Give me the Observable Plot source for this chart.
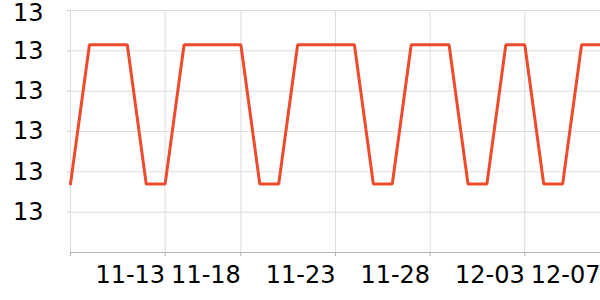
<!DOCTYPE html>
<html>
<head>
<meta charset="utf-8">
<script src="https://cdn.jsdelivr.net/npm/d3@7"></script>
<script src="https://cdn.jsdelivr.net/npm/@observablehq/plot@0.6"></script>
<style>
  html, body { margin: 0; padding: 0; background: #fff; }
  #chart svg { display: block; }
</style>
</head>
<body>
<div id="chart"></div>
<script>
const dates = ["11-08","11-09","11-10","11-11","11-12","11-13","11-14","11-15","11-16","11-18",
  "11-19","11-20","11-21","11-22","11-23","11-24","11-25","11-26","11-27","11-28",
  "11-29","11-30","12-01","12-02","12-03","12-04","12-05","12-06","12-07"];
const values = [13.007,13.0415,13.0415,13.0415,13.007,13.007,13.0415,13.0415,13.0415,13.0415,
  13.007,13.007,13.0415,13.0415,13.0415,13.0415,13.007,13.007,13.0415,13.0415,
  13.0415,13.007,13.007,13.0415,13.0415,13.007,13.007,13.0415,13.0415];
const xTicks = ["11-08","11-13","11-18","11-23","11-28","12-03","12-07"];
const xLabels = ["11-13","11-18","11-23","11-28","12-03","12-07"];
const yTicks = [13.00,13.01,13.02,13.03,13.04,13.05];
const yDomain = [12.99, 13.05];

const data = dates.map((d, i) => ({date: d, value: values[i]}));
const fmt = d3.format(".0f");
const topTick = yTicks[yTicks.length - 1];

const chart = Plot.plot({
  width: 600,
  height: 300,
  marginLeft: 70,
  marginRight: 0,
  marginTop: 10,
  marginBottom: 48,
  style: {fontFamily: "DejaVu Sans", fontSize: "24px", background: "#fff", color: "#000"},
  x: {type: "point", domain: dates, padding: 0, inset: 0, round: false, range: [70, 600]},
  y: {domain: yDomain, range: [252, 10]},
  marks: [
    Plot.gridY(yTicks, {stroke: "#dddddd", strokeOpacity: 1}),
    Plot.gridX(xTicks, {stroke: "#dddddd", strokeOpacity: 1}),
    Plot.ruleY([yDomain[0]], {stroke: "#b0b0b0", strokeWidth: 1}),
    Plot.axisY(yTicks, {
      tickFormat: d => d === topTick ? "" : fmt(d), tickSize: 3, tickPadding: 24,
      stroke: "#cccccc", fill: "#000", fontSize: 24, label: null
    }),
    Plot.axisY([topTick], {
      tickFormat: fmt, tickSize: 0, tickPadding: 27, dy: 3,
      fill: "#000", fontSize: 24, label: null
    }),
    Plot.axisX(xTicks, {
      tickSize: 4, tickPadding: 9, textAnchor: "end",
      tickFormat: d => xLabels.includes(d) ? d : "",
      stroke: "#b0b0b0", fill: "#000", fontSize: 24, label: null
    }),
    Plot.line(data, {x: "date", y: "value", stroke: "#ee4b2e", strokeWidth: 3, strokeLinejoin: "miter"})
  ]
});
document.getElementById("chart").appendChild(chart);
</script>
</body>
</html>
